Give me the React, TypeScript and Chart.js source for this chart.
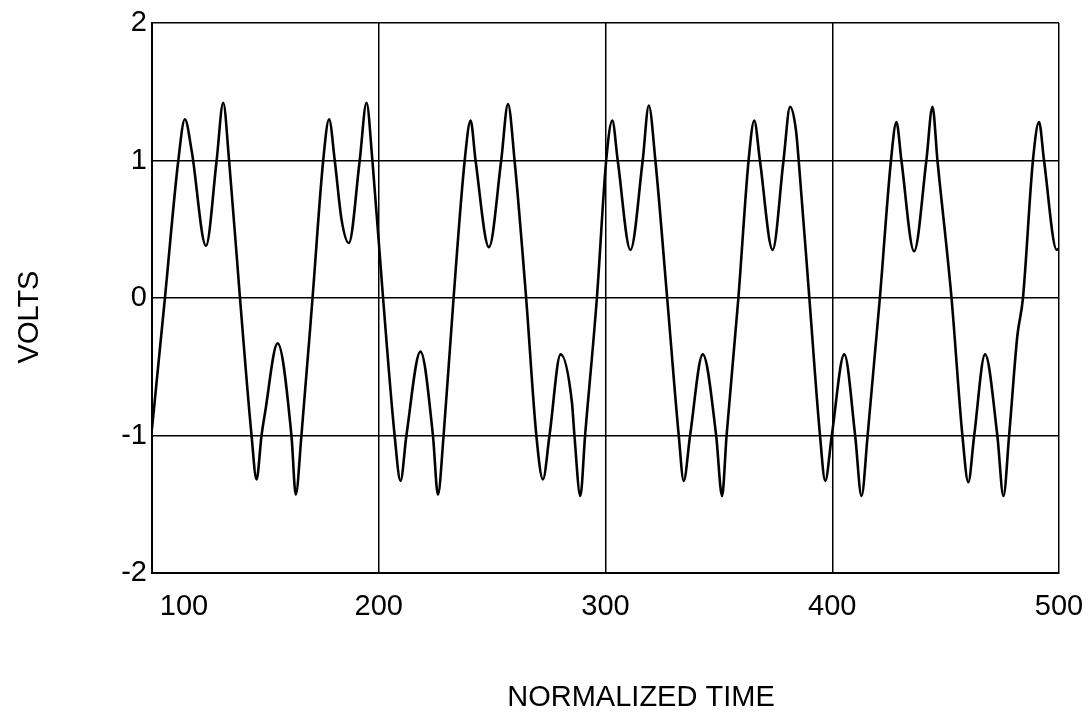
import { useEffect, useRef } from 'react';
import { Chart, registerables } from 'chart.js';

Chart.register(...registerables);

// Normalized time samples (at extrema / crossings)
const timeValues = [
  100, 105.7, 111.6, 114.5, 117.5, 123.8, 128.5, 131.4, 134.0, 138.8, 143.9, 146.1, 148.3, 149.8, 155.4,
  161.5, 163.4, 165.9, 170.8, 175.5, 178.1, 180.6, 183.6, 186.8, 191.6, 194.6, 197.2, 201.9, 207.0,
  209.6, 212.2, 218.4, 223.9, 226.1, 228.6, 233.0, 237.9, 240.5, 242.7, 248.6, 254.0, 257.0, 259.9,
  265.0, 269.5, 272.4, 275.3, 280.2, 285.2, 286.3, 288.9, 291.0, 296.2, 300.3, 303.0, 305.4, 311.0,
  316.4, 319.1, 322.0, 327.2, 332.3, 334.5, 337.3, 342.9, 348.8, 351.4, 353.4, 358.6, 363.1, 365.6,
  368.1, 373.7, 378.5, 381.4, 384.0, 385.2, 389.9, 394.6, 396.9, 399.8, 405.3, 410.1, 412.9, 415.6,
  421.0, 425.9, 428.3, 430.5, 436.1, 441.5, 444.2, 446.4, 452.6, 457.4, 460.0, 462.6, 467.4, 472.8,
  475.5, 478.0, 481.6, 484.1, 488.5, 491.2, 493.4, 499.0, 500,
];

// Volts at those times
const voltValues = [
  -0.95, 0, 1.0, 1.3, 1.07, 0.38, 1.0, 1.42, 1.0, 0, -1.0, -1.32, -1.0, -0.84, -0.33,
  -1.0, -1.43, -1.0, 0, 1.0, 1.3, 1.0, 0.57, 0.4, 1.0, 1.42, 1.0, 0, -1.0,
  -1.33, -1.0, -0.39, -1.0, -1.43, -1.0, 0, 1.0, 1.29, 1.0, 0.37, 1.0, 1.41, 1.0,
  0, -1.0, -1.32, -1.0, -0.41, -0.76, -1.0, -1.44, -1.0, 0, 1.0, 1.29, 1.0, 0.35,
  1.0, 1.4, 1.0, 0, -1.0, -1.33, -1.0, -0.41, -1.0, -1.44, -1.0, 0, 1.0, 1.29,
  1.0, 0.35, 1.0, 1.39, 1.22, 1.0, 0, -1.0, -1.33, -1.0, -0.41, -1.0, -1.44, -1.0,
  0, 1.0, 1.28, 1.0, 0.34, 1.0, 1.39, 1.0, 0, -1.0, -1.34, -1.0, -0.41, -1.0,
  -1.44, -1.0, -0.28, 0, 1.0, 1.28, 1.0, 0.35, 0.36,
];

const xTicks = [100, 200, 300, 400, 500];
const yTicks = [-2, -1, 0, 1, 2];
const xAxisTitle = 'NORMALIZED TIME';
const yAxisTitle = 'VOLTS';

const FONT = '"Liberation Sans", Arial, Helvetica, sans-serif';

export default function App() {
  const ref = useRef<HTMLCanvasElement>(null);

  useEffect(() => {
    if (!ref.current) return;

    const titlesPlugin = {
      id: 'axisTitles',
      afterDraw(chart: any) {
        const ctx = chart.ctx;
        ctx.save();
        ctx.fillStyle = '#000';
        ctx.font = `29px ${FONT}`;
        ctx.textAlign = 'center';
        ctx.textBaseline = 'alphabetic';
        ctx.fillText(xAxisTitle, 641, 706);
        ctx.translate(38, 317);
        ctx.rotate(-Math.PI / 2);
        ctx.fillText(yAxisTitle, 0, 0);
        ctx.restore();
      },
    };

    const shiftFirstLabel = {
      id: 'shiftFirstLabel',
      beforeDraw(chart: any) {
        const xs = chart.scales.x;
        const items = xs.getLabelItems(chart.chartArea);
        if (items && items.length && !items._shifted) {
          items[0].options.translation[0] += 32;
          items._shifted = true;
        }
      },
    };

    const chart = new Chart(ref.current, {
      type: 'line',
      data: {
        datasets: [
          {
            data: timeValues.map((t, i) => ({ x: t, y: voltValues[i] })),
            borderColor: '#000',
            borderWidth: 2.6,
            pointRadius: 0,
            cubicInterpolationMode: 'monotone',
            fill: false,
          },
        ],
      },
      options: {
        responsive: false,
        animation: false,
        events: [],
        layout: { padding: { top: 23, right: 29, left: 0, bottom: 0 } },
        plugins: {
          legend: { display: false },
          tooltip: { enabled: false },
        },
        scales: {
          x: {
            type: 'linear',
            min: 100,
            max: 500,
            afterBuildTicks: (scale: any) => {
              scale.ticks = xTicks.map((v) => ({ value: v }));
            },
            afterFit: (scale: any) => {
              scale.height = 140;
              scale.paddingLeft = 0;
              scale.paddingRight = 0;
            },
            ticks: {
              color: '#000',
              font: { family: FONT, size: 29 },
              padding: 17,
              maxRotation: 0,
              autoSkip: false,
              callback: (v: any) => String(v),
            },
            grid: { color: '#000', lineWidth: 1.5, drawTicks: false },
            border: { color: '#000', width: 2 },
          },
          y: {
            type: 'linear',
            min: -2,
            max: 2,
            afterBuildTicks: (scale: any) => {
              scale.ticks = yTicks.map((v) => ({ value: v }));
            },
            afterFit: (scale: any) => {
              scale.width = 152;
              scale.paddingTop = 0;
              scale.paddingBottom = 0;
            },
            ticks: {
              color: '#000',
              font: { family: FONT, size: 29 },
              padding: 5,
              autoSkip: false,
              callback: (v: any) => String(v),
            },
            grid: { color: '#000', lineWidth: 1.5, drawTicks: false },
            border: { color: '#000', width: 2 },
          },
        },
      },
      plugins: [titlesPlugin, shiftFirstLabel],
    } as any);

    return () => chart.destroy();
  }, []);

  return (
    <canvas
      ref={ref}
      width={1088}
      height={713}
      style={{ position: 'absolute', left: 0, top: 0, width: 1088, height: 713 }}
    />
  );
}
